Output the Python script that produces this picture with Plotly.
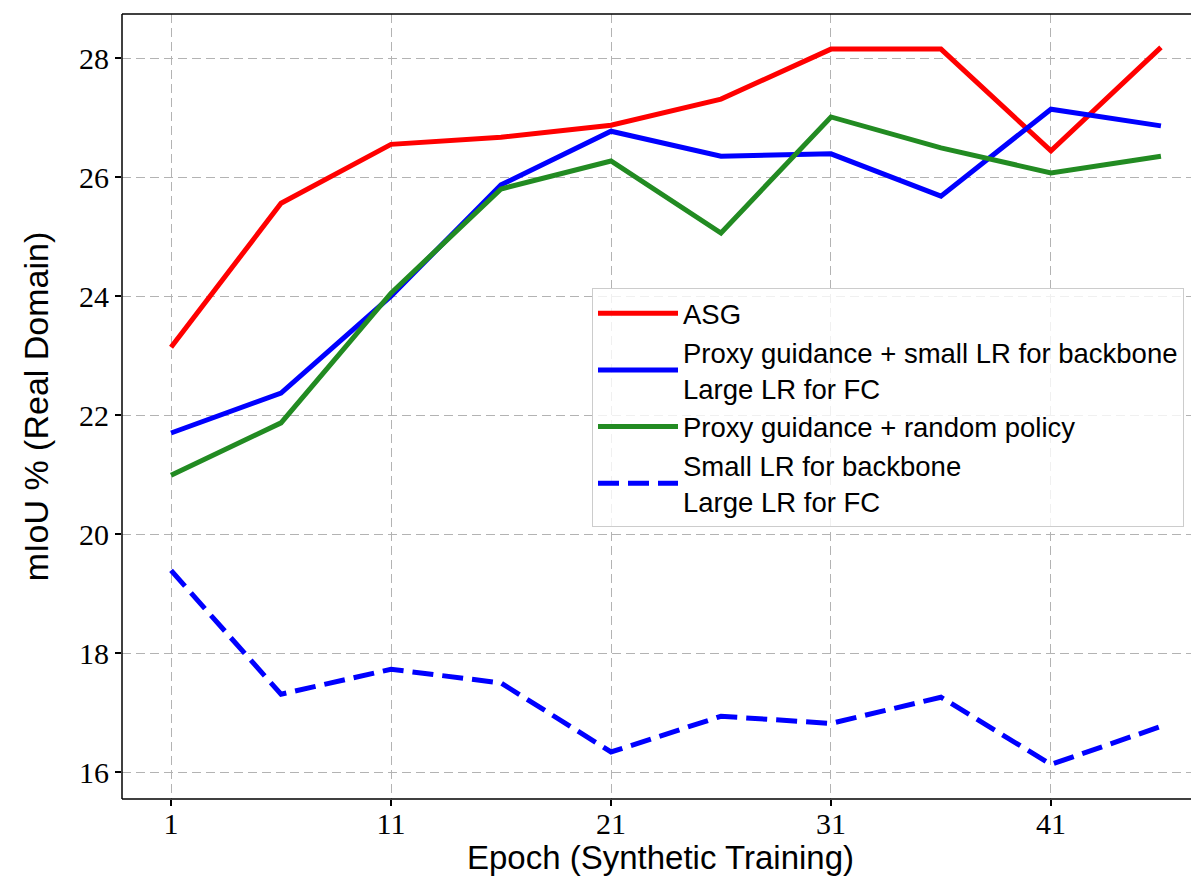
import plotly.graph_objects as go

epochs = [1, 6, 11, 16, 21, 26, 31, 36, 41, 46]
asg = [23.14, 25.56, 26.55, 26.67, 26.87, 27.31, 28.15, 28.15, 26.44, 28.18]
proxy_small_lr = [21.70, 22.37, 24.00, 25.87, 26.77, 26.35, 26.39, 25.68, 27.14, 26.86]
proxy_random = [20.99, 21.87, 24.05, 25.80, 26.27, 25.06, 27.01, 26.49, 26.07, 26.35]
small_lr = [19.39, 17.31, 17.73, 17.50, 16.34, 16.94, 16.82, 17.26, 16.13, 16.77]

x_ticks = [1, 11, 21, 31, 41]
y_ticks = [16, 18, 20, 22, 24, 26, 28]

names = [
    "ASG",
    "Proxy guidance + small LR for backbone<br>Large LR for FC",
    "Proxy guidance + random policy",
    "Small LR for backbone<br>Large LR for FC",
]

fig = go.Figure()
series = [
    (asg, names[0], "#ff0000", "solid"),
    (proxy_small_lr, names[1], "#0000ff", "solid"),
    (proxy_random, names[2], "#228b22", "solid"),
    (small_lr, names[3], "#0000ff", "21px,9px"),
]
for ys, nm, col, dash in series:
    fig.add_trace(go.Scatter(x=epochs, y=ys, name=nm, mode="lines",
                             line=dict(color=col, width=5, dash=dash)))

sans = "Liberation Sans"
serif = "Liberation Serif"

# spines: left, bottom, top (right spine falls outside the cropped figure)
spine = dict(color="black", width=1.5)
fig.add_shape(type="line", xref="paper", yref="paper", x0=0, x1=0, y0=0, y1=1, line=spine, layer="above")
fig.add_shape(type="line", xref="paper", yref="paper", x0=0, x1=1, y0=0, y1=0, line=spine, layer="above")
fig.add_shape(type="line", xref="paper", yref="paper", x0=0, x1=1, y0=1, y1=1, line=spine, layer="above")

fig.update_layout(
    width=1191, height=868,
    margin=dict(l=114, r=0, t=6, b=77, autoexpand=False),
    paper_bgcolor="white", plot_bgcolor="white",
    showlegend=True,
    legend=dict(
        x=(592 - 122) / 1077, y=0.651, xanchor="left", yanchor="top",
        bgcolor="rgba(255,255,255,0.8)", bordercolor="#cccccc", borderwidth=1,
        font=dict(family=sans, size=27.5, color="black"),
        itemwidth=80, tracegroupgap=4,
    ),
    xaxis=dict(
        range=[-1.23, 47.73], tickmode="array", tickvals=x_ticks,
        ticks="outside", ticklen=6, tickcolor="black", tickwidth=1.5, automargin=False,
        ticklabelstandoff=-8,
        showline=False,
        showgrid=True, gridcolor="#b3b3b3", griddash="9px,5px", gridwidth=1.2,
        zeroline=False,
        tickfont=dict(family=serif, size=30, color="black"),
        title=dict(text="Epoch (Synthetic Training)", font=dict(family=sans, size=33, color="black"), standoff=6),
    ),
    yaxis=dict(
        range=[15.55, 28.74], tickmode="array", tickvals=y_ticks,
        ticks="outside", ticklen=6, tickcolor="black", tickwidth=1.5, automargin=False,
        showline=False,
        showgrid=True, gridcolor="#b3b3b3", griddash="9px,5px", gridwidth=1.2,
        zeroline=False,
        tickfont=dict(family=serif, size=30, color="black"),
        title=dict(text="mIoU % (Real Domain)", font=dict(family=sans, size=34, color="black"), standoff=20),
    ),
)

fig.write_html("out.html")
